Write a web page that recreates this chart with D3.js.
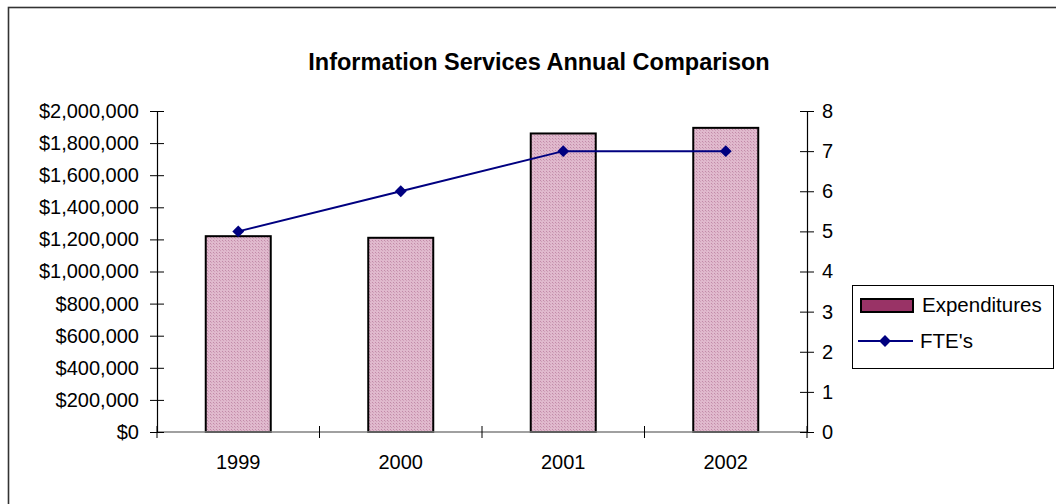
<!DOCTYPE html>
<html>
<head>
<meta charset="utf-8">
<script src="https://cdn.jsdelivr.net/npm/d3@7"></script>
<style>
  html, body { margin: 0; padding: 0; background: #fff; }
  svg { display: block; font-family: "Liberation Sans", Arial, sans-serif; }
</style>
</head>
<body>
<svg id="chart" width="1056" height="504"></svg>
<script>
// Annual figures for Information Services
const years = ["1999", "2000", "2001", "2002"];
const expenditures = [1220000, 1210000, 1860000, 1895000];
const ftes = [5, 6, 7, 7];
const moneyTicks = [0, 200000, 400000, 600000, 800000, 1000000, 1200000, 1400000, 1600000, 1800000, 2000000];
const fteTicks = [0, 1, 2, 3, 4, 5, 6, 7, 8];
const chartTitle = "Information Services Annual Comparison";
const legendLabels = ["Expenditures", "FTE's"];

const svg = d3.select("#chart");
const plot = { left: 157, right: 807, top: 111, bottom: 432 };

// Stippled maroon fill for the columns
const defs = svg.append("defs");
const pat = defs.append("pattern")
  .attr("id", "stipple").attr("patternUnits", "userSpaceOnUse")
  .attr("width", 3).attr("height", 3);
pat.append("rect").attr("width", 3).attr("height", 3).attr("fill", "#e0b9cd");
pat.append("rect").attr("x", 0).attr("y", 0).attr("width", 1).attr("height", 1).attr("fill", "#c28aa8");
pat.append("rect").attr("x", 1).attr("y", 1).attr("width", 1).attr("height", 1).attr("fill", "#cf9fb8");

// Outer chart frame
svg.append("rect")
  .attr("x", 8.5).attr("y", 7.5).attr("width", 1200).attr("height", 700)
  .attr("fill", "none").attr("stroke", "#333").attr("stroke-width", 1.6);

const x = d3.scaleBand().domain(years).range([plot.left, plot.right]).paddingInner(0.6).paddingOuter(0.3);
const xCat = d3.scaleBand().domain(years).range([plot.left, plot.right]);
const yL = d3.scaleLinear().domain([0, 2000000]).range([plot.bottom, plot.top]);
const yR = d3.scaleLinear().domain([0, 8]).range([plot.bottom, plot.top]);

// Title
svg.append("text")
  .attr("x", 539).attr("y", 70)
  .attr("text-anchor", "middle").attr("font-weight", "bold").attr("font-size", 23.5)
  .attr("fill", "#000").text(chartTitle);

// Columns
svg.append("g").selectAll("rect").data(years).join("rect")
  .attr("x", d => x(d)).attr("width", x.bandwidth())
  .attr("y", (d, i) => yL(expenditures[i]))
  .attr("height", (d, i) => plot.bottom - yL(expenditures[i]))
  .attr("fill", "url(#stipple)").attr("stroke", "#000").attr("stroke-width", 2);

// Category axis
const fmtMoney = d => "$" + d3.format(",")(d);
const gx = svg.append("g").attr("transform", `translate(0,${plot.bottom})`);
gx.append("line").attr("x1", plot.left).attr("x2", plot.right).attr("stroke", "#808080").attr("stroke-width", 1.5);
const catEdges = years.map(d => xCat(d)).concat([plot.right]);
gx.selectAll("line.tk").data(catEdges).join("line").attr("class", "tk")
  .attr("x1", d => d).attr("x2", d => d).attr("y1", -6).attr("y2", 6)
  .attr("stroke", "#000").attr("stroke-width", 1);
gx.selectAll("text").data(years).join("text")
  .attr("x", d => xCat(d) + xCat.bandwidth() / 2).attr("y", 37)
  .attr("text-anchor", "middle").attr("font-size", 20).attr("fill", "#000").text(d => d);

// Left value axis
const axL = d3.axisLeft(yL).tickValues(moneyTicks).tickFormat(fmtMoney).tickSizeInner(6).tickSizeOuter(0).tickPadding(12);
const gl = svg.append("g").attr("transform", `translate(${plot.left},0)`).call(axL);
gl.select(".domain").attr("stroke", "#000").attr("stroke-width", 1.2);
gl.selectAll(".tick line").attr("x1", -7).attr("x2", 7).attr("stroke", "#000");
gl.selectAll(".tick text").attr("font-size", 20).attr("font-family", "Liberation Sans, Arial, sans-serif").attr("fill", "#000").attr("x", -18);

// Right value axis
const axR = d3.axisRight(yR).tickValues(fteTicks).tickSizeInner(6).tickSizeOuter(0).tickPadding(12);
const gr = svg.append("g").attr("transform", `translate(${plot.right},0)`).call(axR);
gr.select(".domain").attr("stroke", "#000").attr("stroke-width", 1.2);
gr.selectAll(".tick line").attr("x1", -7).attr("x2", 7).attr("stroke", "#000");
gr.selectAll(".tick text").attr("font-size", 20).attr("font-family", "Liberation Sans, Arial, sans-serif").attr("fill", "#000").attr("x", 15);

// FTE line with diamond markers
const navy = "#000080";
const line = d3.line().x((d, i) => xCat(years[i]) + xCat.bandwidth() / 2).y(d => yR(d));
svg.append("path").datum(ftes).attr("d", line)
  .attr("fill", "none").attr("stroke", navy).attr("stroke-width", 2);
const diamond = d3.symbol().type(d3.symbolDiamond2).size(90);
svg.append("g").selectAll("path").data(ftes).join("path")
  .attr("transform", (d, i) => `translate(${xCat(years[i]) + xCat.bandwidth() / 2},${yR(d)})`)
  .attr("d", diamond).attr("fill", navy);

// Legend
const lg = svg.append("g");
lg.append("rect").attr("x", 852.5).attr("y", 285.5).attr("width", 201).attr("height", 83)
  .attr("fill", "#fff").attr("stroke", "#000").attr("stroke-width", 1);
lg.append("rect").attr("x", 861).attr("y", 299).attr("width", 52).attr("height", 13)
  .attr("fill", "#993366").attr("stroke", "#000").attr("stroke-width", 2);
lg.append("text").attr("x", 922).attr("y", 312).attr("font-size", 20.5).attr("fill", "#000").text(legendLabels[0]);
lg.append("line").attr("x1", 858).attr("x2", 913).attr("y1", 341).attr("y2", 341)
  .attr("stroke", navy).attr("stroke-width", 2);
lg.append("path").attr("transform", "translate(885,341)").attr("d", diamond).attr("fill", navy);
lg.append("text").attr("x", 920).attr("y", 348).attr("font-size", 20.5).attr("fill", "#000").text(legendLabels[1]);
</script>
</body>
</html>
